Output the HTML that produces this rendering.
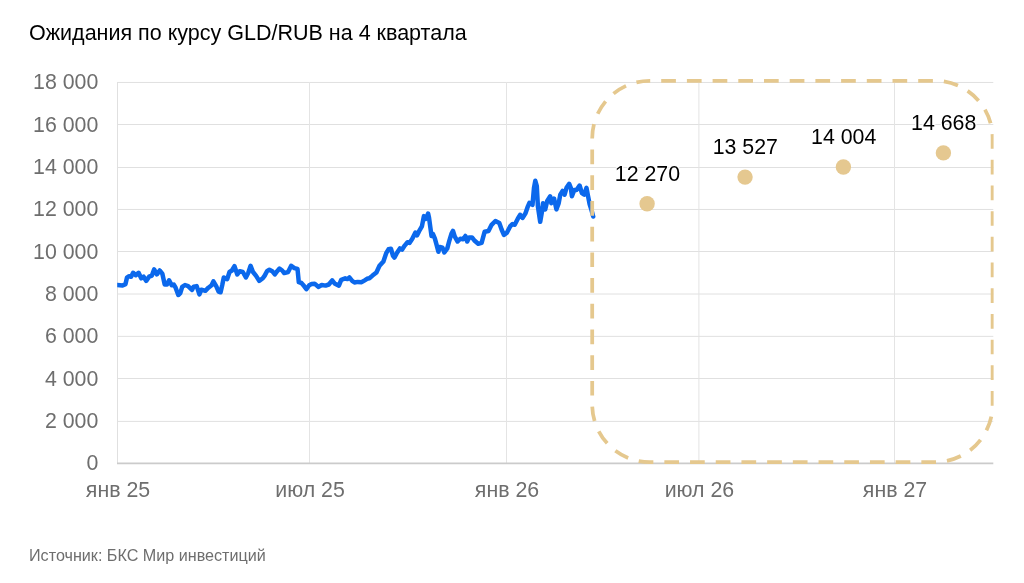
<!DOCTYPE html>
<html lang="ru">
<head>
<meta charset="utf-8">
<title>Ожидания по курсу GLD/RUB на 4 квартала</title>
<style>
html,body{margin:0;padding:0;background:#fff;}
body{width:1024px;height:583px;position:relative;overflow:hidden;will-change:transform;font-family:"Liberation Sans",Arial,sans-serif;}
.title{position:absolute;left:29px;top:20.7px;font-size:21.5px;line-height:24px;color:#000;white-space:nowrap;}
.src{position:absolute;left:29px;top:545.9px;font-size:16.15px;line-height:18px;color:#6e6e6e;white-space:nowrap;}
svg text{font-family:"Liberation Sans",Arial,sans-serif;}
.ax{font-size:21.33px;fill:#6e6e6e;}
.dl{font-size:21.33px;fill:#000;stroke:#fff;stroke-width:2.5px;paint-order:stroke;stroke-linejoin:round;}
</style>
</head>
<body>
<div class="title">Ожидания по курсу GLD/RUB на 4 квартала</div>
<svg width="1024" height="583" viewBox="0 0 1024 583" style="position:absolute;left:0;top:0">
<line x1="117" y1="421.40" x2="993.3" y2="421.40" stroke="#e0e0e0" stroke-width="1"/>
<line x1="117" y1="378.50" x2="993.3" y2="378.50" stroke="#e0e0e0" stroke-width="1"/>
<line x1="117" y1="336.35" x2="993.3" y2="336.35" stroke="#e0e0e0" stroke-width="1"/>
<line x1="117" y1="294.00" x2="993.3" y2="294.00" stroke="#e0e0e0" stroke-width="1"/>
<line x1="117" y1="251.50" x2="993.3" y2="251.50" stroke="#e0e0e0" stroke-width="1"/>
<line x1="117" y1="209.45" x2="993.3" y2="209.45" stroke="#e0e0e0" stroke-width="1"/>
<line x1="117" y1="167.50" x2="993.3" y2="167.50" stroke="#e0e0e0" stroke-width="1"/>
<line x1="117" y1="124.50" x2="993.3" y2="124.50" stroke="#e0e0e0" stroke-width="1"/>
<line x1="117" y1="82.45" x2="993.3" y2="82.45" stroke="#e0e0e0" stroke-width="1"/>
<line x1="117.5" y1="82" x2="117.5" y2="463.3" stroke="#e0e0e0" stroke-width="1"/>
<line x1="309.5" y1="82" x2="309.5" y2="463.3" stroke="#e4e4e4" stroke-width="1"/>
<line x1="506.5" y1="82" x2="506.5" y2="463.3" stroke="#e4e4e4" stroke-width="1"/>
<line x1="698.9" y1="82" x2="698.9" y2="463.3" stroke="#e4e4e4" stroke-width="1"/>
<line x1="894.5" y1="82" x2="894.5" y2="463.3" stroke="#e4e4e4" stroke-width="1"/>
<line x1="117" y1="463.4" x2="993.3" y2="463.4" stroke="#cbcbcb" stroke-width="1.6"/>
<text x="98.3" y="470.3" text-anchor="end" class="ax">0</text>
<text x="98.3" y="428.0" text-anchor="end" class="ax">2 000</text>
<text x="98.3" y="385.7" text-anchor="end" class="ax">4 000</text>
<text x="98.3" y="343.3" text-anchor="end" class="ax">6 000</text>
<text x="98.3" y="301.0" text-anchor="end" class="ax">8 000</text>
<text x="98.3" y="258.7" text-anchor="end" class="ax">10 000</text>
<text x="98.3" y="216.4" text-anchor="end" class="ax">12 000</text>
<text x="98.3" y="174.1" text-anchor="end" class="ax">14 000</text>
<text x="98.3" y="131.7" text-anchor="end" class="ax">16 000</text>
<text x="98.3" y="89.4" text-anchor="end" class="ax">18 000</text>
<text x="118.0" y="497" text-anchor="middle" class="ax">янв 25</text>
<text x="310.0" y="497" text-anchor="middle" class="ax">июл 25</text>
<text x="507.0" y="497" text-anchor="middle" class="ax">янв 26</text>
<text x="699.4" y="497" text-anchor="middle" class="ax">июл 26</text>
<text x="895.0" y="497" text-anchor="middle" class="ax">янв 27</text>
<clipPath id="cl"><rect x="117.2" y="60" width="600" height="420"/></clipPath>
<polyline points="117.3,285.0 122.5,285.5 125.5,284.1 127.0,277.5 128.8,276.2 131.1,276.7 133.1,272.8 135.8,275.2 138.6,272.8 141.2,278.3 143.6,276.7 146.2,280.9 149.1,276.7 151.9,275.6 154.1,269.4 156.9,274.4 159.7,270.5 162.3,273.6 164.7,284.5 167.0,284.5 169.1,280.3 171.7,285.3 173.8,284.5 175.6,287.7 178.3,295.0 180.3,293.1 182.2,286.9 185.0,285.0 188.1,286.1 192.0,290.0 193.6,286.6 196.7,286.1 199.4,294.4 201.4,289.7 205.3,290.8 208.4,287.7 211.6,285.3 213.4,281.4 216.2,286.1 218.6,291.6 220.6,292.3 222.2,285.3 223.8,277.5 227.2,279.1 229.5,272.0 231.9,270.5 234.5,266.2 237.3,274.4 239.7,271.2 242.8,272.0 245.9,277.5 248.3,272.8 250.6,265.8 253.0,272.0 256.1,275.9 259.2,280.9 262.8,278.3 264.7,275.6 267.0,271.2 269.4,269.7 272.2,271.2 274.8,274.4 277.2,271.2 279.5,268.6 282.2,270.5 284.2,273.1 288.1,272.0 291.2,265.8 294.4,268.1 297.5,268.9 298.8,282.2 301.4,283.0 304.1,286.1 306.4,289.2 309.2,285.3 311.6,284.1 314.7,283.8 318.6,286.9 321.7,285.0 325.6,285.6 328.8,284.5 332.2,280.3 335.0,283.8 338.9,285.6 341.2,279.8 345.2,278.3 347.5,279.1 349.4,277.5 352.2,280.9 354.5,282.5 357.7,281.9 361.6,282.2 364.7,280.3 367.0,278.8 369.4,278.3 372.5,275.6 376.4,272.5 379.5,265.8 383.4,261.4 386.2,253.2 388.5,249.3 391.0,248.8 393.0,255.9 394.4,257.6 397.2,252.5 399.9,248.4 402.0,249.7 404.7,245.6 407.5,242.2 409.5,242.9 412.3,238.7 415.4,232.6 417.1,235.3 419.1,231.2 421.9,226.4 423.9,216.1 426.0,218.8 428.1,213.6 429.0,217.5 431.5,236.0 432.9,233.9 434.9,238.7 436.6,244.9 438.4,251.8 439.7,247.0 442.5,247.7 444.3,252.5 447.3,248.4 449.3,240.8 451.4,233.9 453.0,230.9 454.8,236.7 457.6,241.5 460.3,238.7 463.1,239.2 465.4,236.0 467.2,241.5 469.2,237.4 472.0,237.4 474.7,240.8 478.2,243.8 481.6,242.9 484.6,231.8 488.5,231.0 491.6,224.8 495.4,221.0 499.3,223.0 501.6,229.5 503.9,234.9 507.0,232.6 510.1,226.4 512.4,224.1 514.7,224.8 517.8,218.7 520.1,214.8 522.5,217.9 525.5,213.3 527.9,206.3 529.4,202.9 532.5,204.8 534.0,187.8 535.3,180.8 536.8,186.2 537.9,206.3 540.2,221.8 541.8,212.5 543.0,203.2 545.2,209.4 547.2,200.9 550.2,196.3 551.3,203.2 554.1,198.6 556.4,209.4 558.7,203.2 560.3,194.7 562.6,190.9 564.6,194.7 566.5,187.8 569.2,183.9 570.8,187.8 571.9,196.3 574.2,190.1 576.5,190.1 579.6,185.5 581.9,193.2 584.2,194.7 586.5,187.8 588.1,196.3 589.6,204.0 591.5,210.2 593.2,216.5" fill="none" stroke="#0b68ec" stroke-width="4.5" stroke-linejoin="round" stroke-linecap="round" clip-path="url(#cl)"/>
<circle cx="647.1" cy="203.7" r="7.7" fill="#e5c890"/>
<text x="647.4" y="180.5" text-anchor="middle" class="dl">12 270</text>
<circle cx="745.05" cy="177.1" r="7.7" fill="#e5c890"/>
<text x="745.3499999999999" y="153.9" text-anchor="middle" class="dl">13 527</text>
<circle cx="843.4" cy="167.0" r="7.7" fill="#e5c890"/>
<text x="843.6999999999999" y="143.8" text-anchor="middle" class="dl">14 004</text>
<circle cx="943.4" cy="152.9" r="7.7" fill="#e5c890"/>
<text x="943.6999999999999" y="129.7" text-anchor="middle" class="dl">14 668</text>
<clipPath id="cp"><rect x="0" y="0" width="993.6" height="583"/></clipPath>
<rect x="592.2" y="80.8" width="400.4" height="381.3" rx="57.5" ry="57.5" fill="none" stroke="#e5c88e" stroke-width="3.75" stroke-dasharray="14.7 11" stroke-dashoffset="-11.5" clip-path="url(#cp)"/>
</svg>
<div class="src">Источник: БКС Мир инвестиций</div>
</body>
</html>
